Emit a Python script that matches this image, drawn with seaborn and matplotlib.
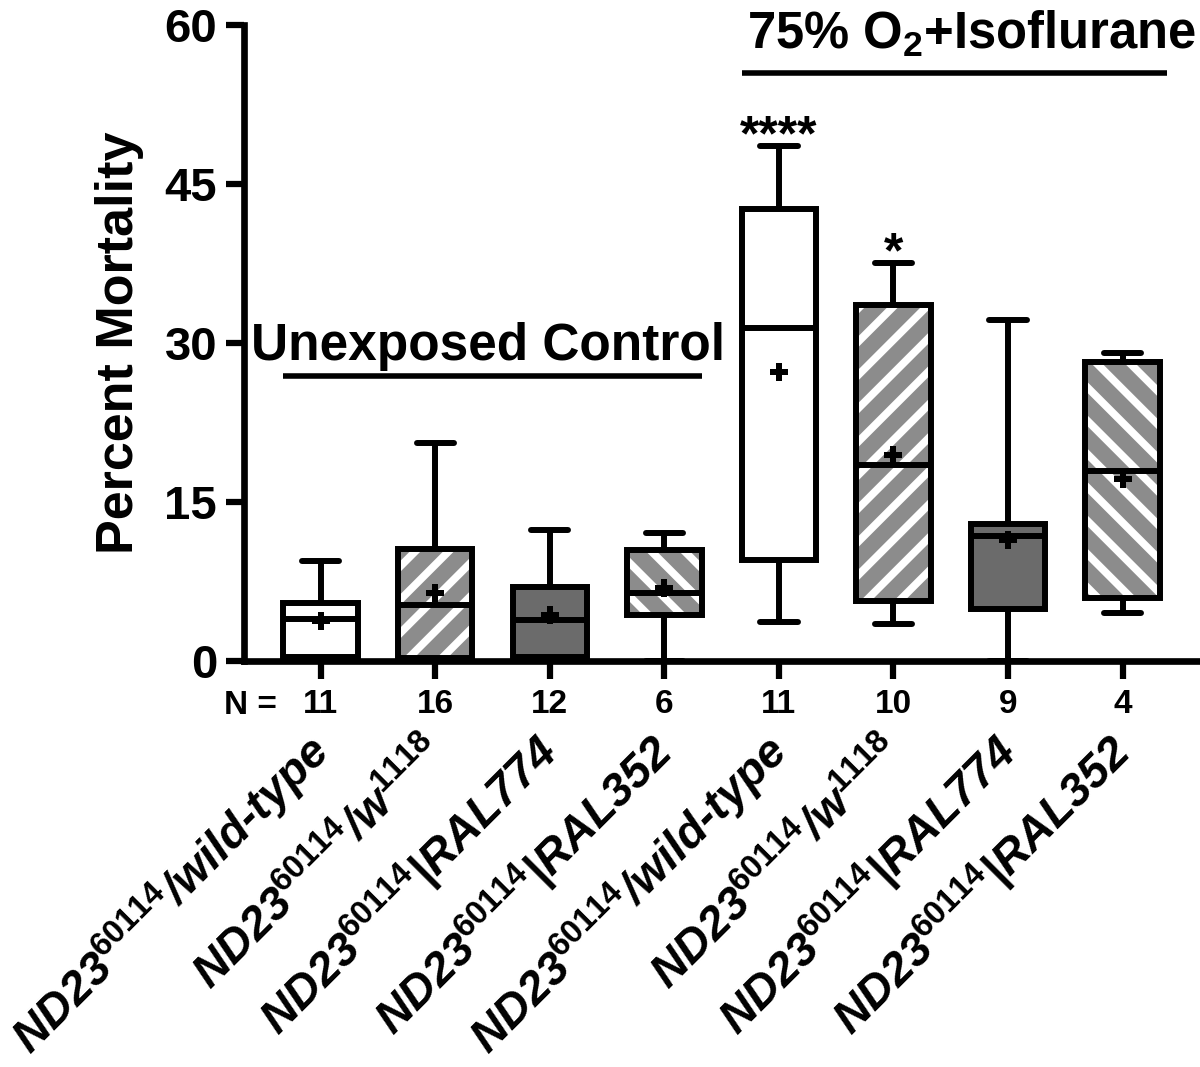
import numpy as np
import pandas as pd
import matplotlib
matplotlib.use("Agg")
import matplotlib.pyplot as plt
import matplotlib.colors as mcolors
import seaborn as sns

# five-number summaries (percent mortality)
groups = ["ctl_wt", "ctl_w1118", "ctl_RAL774", "ctl_RAL352",
          "iso_wt", "iso_w1118", "iso_RAL774", "iso_RAL352"]
labels = [r"ND23$^{\mathit{60114}}$/wild-type",
          r"ND23$^{\mathit{60114}}$/w$^{\mathit{1118}}$",
          r"ND23$^{\mathit{60114}}$|RAL774",
          r"ND23$^{\mathit{60114}}$|RAL352"] * 2
n_counts = [11, 16, 12, 6, 11, 10, 9, 4]
mins = [0.0, 0.0, 0.0, 0.0, 3.7, 3.5, 0.0, 4.5]
q1s = [0.4, 0.3, 0.4, 4.3, 9.5, 5.7, 4.9, 5.9]
medians = [4.0, 5.3, 3.9, 6.4, 31.4, 18.5, 11.8, 17.9]
q3s = [5.5, 10.6, 7.0, 10.5, 42.6, 33.6, 12.9, 28.2]
maxs = [9.4, 20.6, 12.4, 12.1, 48.6, 37.5, 32.2, 29.1]
means = [3.8, 6.4, 4.3, 6.9, 27.3, 19.4, 11.4, 17.2]
stars = ["", "", "", "", "****", "*", "", ""]
yticks = [0, 15, 30, 45, 60]

fills = ["white", "#8c8c8c", "#6b6b6b", "#8c8c8c"] * 2
hatches = ["", "/", "", "\\"] * 2

# long-form table: with whiskers at 0-100 % the five values give the box exactly
rows = []
for g, a, b, c, d, e in zip(groups, mins, q1s, medians, q3s, maxs):
    for v in (a, b, c, d, e):
        rows.append({"group": g, "value": v})
df = pd.DataFrame(rows)
mean_df = pd.DataFrame({"group": groups, "mean": means})

sns.set_style("ticks", {"axes.edgecolor": "black", "text.color": "black",
                        "axes.labelcolor": "black", "xtick.color": "black",
                        "ytick.color": "black"})
plt.rcParams["font.family"] = ["Liberation Sans", "DejaVu Sans"]
plt.rcParams["font.weight"] = "bold"
plt.rcParams["mathtext.fontset"] = "custom"
plt.rcParams["mathtext.it"] = "Liberation Sans:italic:bold"
plt.rcParams["mathtext.rm"] = "Liberation Sans:bold"
plt.rcParams["mathtext.bf"] = "Liberation Sans:bold"
plt.rcParams["hatch.linewidth"] = 5.5

fig = plt.figure(figsize=(12, 10.67), dpi=100)
ax = fig.add_axes([0.203, 0.3805, 0.797, 0.5961])

box_w = 0.65
sns.boxplot(data=df, x="group", y="value", hue="group", order=groups,
            hue_order=groups, palette=fills, whis=(0, 100), width=box_w,
            linecolor="black", linewidth=4.3, legend=False, ax=ax)

# hatch the striped boxes (white stripes on gray)
boxes = sorted(ax.patches, key=lambda p: p.get_path().vertices[:, 0].mean())
for p, h in zip(boxes, hatches):
    if h:
        p.set_hatch(h)
        p._hatch_color = mcolors.to_rgba("white")

sns.stripplot(data=mean_df, x="group", y="mean", order=groups, jitter=False,
              marker="P", size=13, color="black", linewidth=0, zorder=6, ax=ax)

ax.set_xlim(-0.672, 7.675)
ax.set_ylim(0, 60)
ax.set_yticks(yticks)
ax.set_yticklabels([str(t) for t in yticks], fontsize=34, fontweight="bold")
ax.set_xticks(range(len(groups)))
ax.set_xticklabels([str(n) for n in n_counts], fontsize=24, fontweight="bold")
ax.tick_params(axis="x", length=13, width=4.5, pad=7, colors="black")
ax.tick_params(axis="y", length=13, width=4.5, pad=6, colors="black")
ax.set_xlabel("")
ax.set_ylabel("Percent Mortality", fontsize=37.5, fontweight="bold", labelpad=15)
sns.despine(ax=ax)
for s in ("left", "bottom"):
    ax.spines[s].set_linewidth(4.8)
    ax.spines[s].set_color("black")

xt = ax.get_xaxis_transform()
ax.text(-0.61, -0.0448, "N =", transform=xt, ha="center", va="top",
        fontsize=24, fontweight="bold")
for i, lab in enumerate(labels):
    ax.text(i + 0.1, -0.148, lab, transform=xt, rotation=45,
            rotation_mode="anchor", ha="right", va="baseline", fontsize=33.5,
            fontweight="bold", fontstyle="italic")

for i, s in enumerate(stars):
    if s:
        ax.text(i, maxs[i] - 0.4, s, ha="center", va="baseline",
                fontsize=36, fontweight="bold")

# group headers
ax.plot([0 - box_w / 2, 3 + box_w / 2], [26.9, 26.9], color="black", lw=4,
        solid_capstyle="butt", clip_on=False)
ax.text(1.46, 28.4, "Unexposed Control", ha="center", va="baseline",
        fontsize=37, fontweight="bold")
ax.plot([4 - box_w / 2, 7 + box_w / 2 + 0.06], [55.5, 55.5], color="black",
        lw=4, solid_capstyle="butt", clip_on=False)
ax.text(5.68, 57.8, r"75% O$_\mathbf{2}$+Isoflurane", ha="center",
        va="baseline", fontsize=36.5, fontweight="bold", clip_on=False)

fig.savefig("out.png", dpi=100)
